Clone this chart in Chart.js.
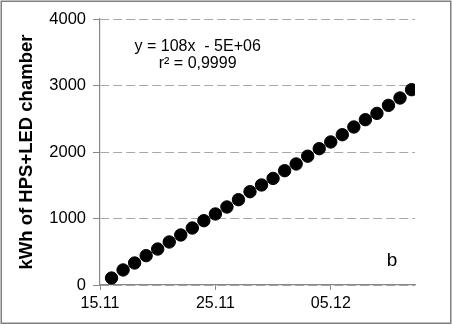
<!DOCTYPE html>
<html>
<head>
<meta charset="utf-8">
<script src="https://cdn.jsdelivr.net/npm/chart.js@4/dist/chart.umd.min.js"></script>
<style>
  html, body { margin: 0; padding: 0; background: #fff; }
  #wrap { width: 452px; height: 325px; position: relative; }
</style>
</head>
<body>
<div id="wrap"><canvas id="c" width="452" height="325"></canvas></div>
<script>
// ---- data ----
const dates = ['16.11','17.11','18.11','19.11','20.11','21.11','22.11','23.11','24.11','25.11',
               '26.11','27.11','28.11','29.11','30.11','01.12','02.12','03.12','04.12','05.12',
               '06.12','07.12','08.12','09.12','10.12','11.12','12.12'];
const kwh = [105, 226, 331, 441, 541, 647, 752, 857, 967, 1068,
             1173, 1283, 1403, 1504, 1603, 1719, 1820, 1937, 2050, 2151,
             2260, 2376, 2486, 2581, 2701, 2812, 2937];
const xTickLabels = ['15.11', '25.11', '05.12'];
const yTicks = [0, 1000, 2000, 3000, 4000];
const yTitle = 'kWh of HPS+LED chamber';
const equationLines = ['y = 108x  - 5E+06', 'r\u00B2 = 0,9999'];
const panelLabel = 'b';

// day offsets relative to the first axis label (15.11)
const monthStart = { '11': 0, '12': 30 };
function dayOffset(s) {
  const [d, m] = s.split('.');
  return monthStart[m] + parseInt(d, 10);
}
const origin = dayOffset(xTickLabels[0]);
const points = dates.map((d, i) => ({ x: dayOffset(d) - origin, y: kwh[i] }));
const xTickValues = xTickLabels.map(s => dayOffset(s) - origin);

const FONT = "'Liberation Sans', Arial, sans-serif";

const decor = {
  id: 'decor',
  afterDraw(chart) {
    const ctx = chart.ctx;
    const ca = chart.chartArea;
    const xs = chart.scales.x, ys = chart.scales.y;
    ctx.save();
    // equation text
    ctx.fillStyle = '#000';
    ctx.font = '16px ' + FONT;
    ctx.textAlign = 'center';
    ctx.textBaseline = 'middle';
    const cx = ca.left + (ca.right - ca.left) * 0.31;
    ctx.fillText(equationLines[0], cx, ys.getPixelForValue(3580));
    ctx.fillText(equationLines[1], cx, ys.getPixelForValue(3330));
    // panel label
    ctx.font = '19px ' + FONT;
    ctx.fillText(panelLabel, xs.getPixelForValue(25.3), ys.getPixelForValue(360));
    // outer frame
    ctx.strokeStyle = '#808080';
    ctx.lineWidth = 1.5;
    ctx.strokeRect(1.25, 1.25, 449.5, 322);
    ctx.restore();
  }
};

new Chart(document.getElementById('c'), {
  type: 'scatter',
  data: {
    datasets: [{
      data: points,
      backgroundColor: '#000',
      borderColor: '#000',
      pointRadius: 6.2,
      pointHoverRadius: 6.2,
      showLine: false
    }]
  },
  options: {
    responsive: false,
    animation: false,
    devicePixelRatio: 1,
    layout: { padding: { left: 0, right: 37, top: 19, bottom: 0 } },
    plugins: { legend: { display: false }, tooltip: { enabled: false } },
    scales: {
      x: {
        type: 'linear',
        min: 0,
        max: 27.3,
        afterBuildTicks(scale) { scale.ticks = xTickValues.map(v => ({ value: v })); },
        afterFit(scale) { scale.height = 40; },
        ticks: {
          callback: (v) => { const i = xTickValues.indexOf(v); return i >= 0 ? xTickLabels[i] : ''; },
          color: '#000',
          font: { family: FONT, size: 16 },
          padding: 4,
          maxRotation: 0,
          autoSkip: false
        },
        grid: { drawOnChartArea: false, drawTicks: true, tickLength: 5, tickColor: '#888', tickWidth: 1 },
        border: { display: true, color: '#888', width: 1.2 }
      },
      y: {
        min: 0,
        max: 4000,
        afterBuildTicks(scale) { scale.ticks = yTicks.map(v => ({ value: v })); },
        afterFit(scale) { scale.width = 100; },
        ticks: {
          callback: (v) => String(v),
          color: '#000',
          font: { family: FONT, size: 16.5 },
          padding: 7
        },
        grid: { color: '#a8a8a8', lineWidth: 1, drawTicks: true, tickLength: 7, tickColor: '#888', tickWidth: 1 },
        border: { display: true, color: '#888', width: 1.2, dash: [9, 4] },
        title: {
          display: true,
          text: yTitle,
          color: '#000',
          font: { family: FONT, size: 18.5, weight: 'bold' },
          padding: { top: 16, bottom: 0 }
        }
      }
    }
  },
  plugins: [decor]
});
</script>
</body>
</html>
